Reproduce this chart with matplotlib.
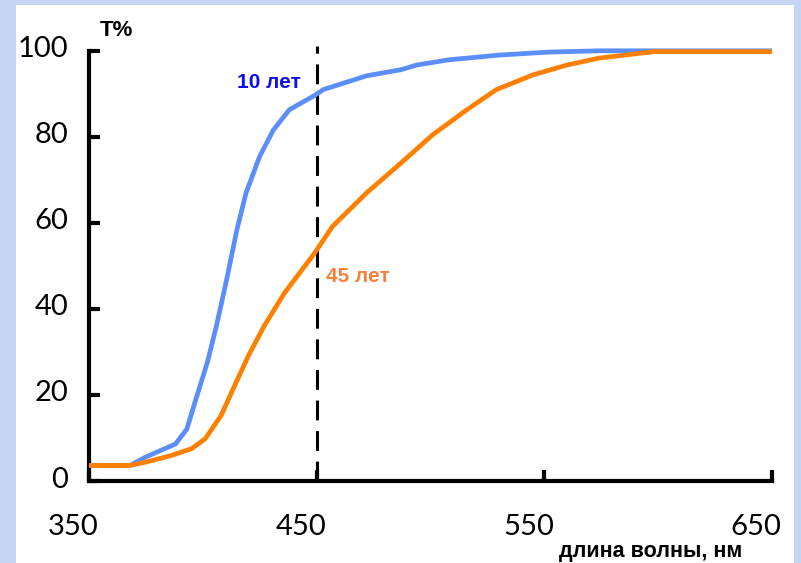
import matplotlib
matplotlib.use("Agg")
import matplotlib.pyplot as plt
import matplotlib.transforms as mtransforms
from matplotlib.patches import Rectangle

# transmission curves (wavelength nm, T %)
wl_10 = [350, 368, 375, 388, 393, 397, 402, 406, 410.5, 415, 419, 425, 431, 438,
         449, 453, 472, 487, 494, 508, 516, 530, 552, 574, 598, 650]
t_10 = [3.6, 3.6, 5.6, 8.6, 12.1, 19.1, 27.6, 36.1, 46.9, 58.5, 67.0, 75.5, 81.6, 86.3,
        89.6, 91.0, 94.2, 95.6, 96.7, 97.9, 98.3, 99.0, 99.7, 100, 100, 100]

wl_45 = [350, 368, 375, 386, 395, 401, 408, 414, 420, 427, 436, 449, 457, 472,
         487, 501, 516, 529, 545, 560, 574, 598, 650]
t_45 = [3.6, 3.6, 4.4, 5.9, 7.5, 9.8, 15.2, 22.2, 29.1, 36.1, 43.8, 52.9, 59.2, 67.0,
        73.9, 80.5, 86.3, 91.0, 94.4, 96.7, 98.3, 99.8, 99.8]

x_ticks = [350, 450, 550, 650]
y_ticks = [0, 20, 40, 60, 80, 100]
marker_wl = 450

label_10 = "10 лет"
label_45 = "45 лет"
x_title = "длина волны, нм"
y_title = "T%"

blue = "#5b8ef8"
orange = "#ff8000"

fig = plt.figure(figsize=(8.01, 5.63), dpi=100)
fig.patch.set_facecolor("#c6d5f3")
# white sheet on the bluish background, kept under the axes
fig.patches.append(Rectangle((16 / 801, 0), (794 - 16) / 801, (563 - 5) / 563,
                             transform=fig.transFigure, facecolor="white",
                             edgecolor="none", zorder=-1))

ax = fig.add_axes([89 / 801, 1 - 481 / 563, (772 - 89) / 801, (481 - 50.8) / 563])
ax.set_facecolor("none")
ax.set_zorder(1)

ax.plot(wl_10, t_10, color=blue, lw=3.4, solid_capstyle="butt",
        solid_joinstyle="round", zorder=3, clip_on=False)
ax.plot(wl_45, t_45, color=orange, lw=3.4, solid_capstyle="butt",
        solid_joinstyle="round", zorder=4, clip_on=False)
ax.plot([marker_wl, marker_wl], [0, 101], color="black", lw=2.2,
        dashes=(6.5, 3.5), zorder=2, clip_on=False)

ax.set_xlim(350, 650)
ax.set_ylim(0, 100)

for side in ["top", "right"]:
    ax.spines[side].set_visible(False)
for side in ["left", "bottom"]:
    ax.spines[side].set_linewidth(3)
    ax.spines[side].set_capstyle("projecting")

ax.set_xticks(x_ticks)
ax.set_xticklabels([str(v) for v in x_ticks])
ax.set_yticks(y_ticks)
ax.set_yticklabels([str(v) for v in y_ticks])
ax.tick_params(direction="in", length=8, width=3, colors="black")
ax.tick_params(axis="x", pad=24)
ax.tick_params(axis="y", pad=15)
for lab in ax.get_xticklabels() + ax.get_yticklabels():
    lab.set_fontfamily("Lato")
    lab.set_fontsize(21)

# labels in the picture sit a bit left / up of their ticks
shift_x = mtransforms.ScaledTranslation(-16 / 100, 0, fig.dpi_scale_trans)
for lab in ax.get_xticklabels():
    lab.set_transform(lab.get_transform() + shift_x)
shift_y = mtransforms.ScaledTranslation(0, 4 / 100, fig.dpi_scale_trans)
for lab in ax.get_yticklabels():
    lab.set_transform(lab.get_transform() + shift_y)

ax.text(361.9, 104.7, y_title, fontsize=16, fontweight="bold",
        family="Liberation Sans", ha="center", va="center", clip_on=False)
ax.text(429, 92.6, label_10, fontsize=15, fontweight="bold", color="#0d0df0",
        family="Liberation Sans", ha="center", va="center")
ax.text(468.3, 47.6, label_45, fontsize=15, fontweight="bold", color="#f5823c",
        family="Liberation Sans", ha="center", va="center")
fig.text(651 / 801, 1 - 552 / 563, x_title, fontsize=15.5, fontweight="bold",
         family="Liberation Sans", ha="center", va="center")

fig.savefig("out.png", dpi=100, facecolor=fig.get_facecolor())
